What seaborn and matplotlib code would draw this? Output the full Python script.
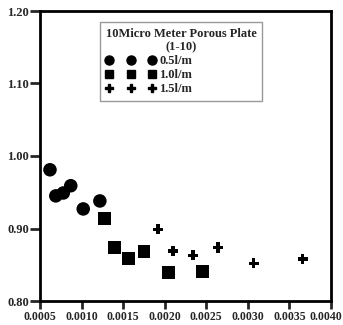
import pandas as pd
import matplotlib.pyplot as plt
import matplotlib.transforms as mtransforms
from matplotlib.lines import Line2D
import seaborn as sns

# flow rates and readings (x = superficial velocity, y = ratio)
x_05 = [0.00062, 0.00069, 0.00078, 0.00087, 0.00102, 0.00122]
y_05 = [0.981, 0.945, 0.949, 0.959, 0.927, 0.938]
x_10 = [0.00128, 0.00140, 0.00156, 0.00175, 0.00205, 0.00245]
y_10 = [0.914, 0.874, 0.859, 0.868, 0.839, 0.841]
x_15 = [0.00192, 0.00210, 0.00234, 0.00264, 0.00307, 0.00366]
y_15 = [0.899, 0.869, 0.863, 0.874, 0.852, 0.858]
labels = ['0.5l/m', '1.0l/m', '1.5l/m']

xticks = [0.0005, 0.0010, 0.0015, 0.0020, 0.0025, 0.0030, 0.0035, 0.0040]
yticks = [0.80, 0.90, 1.00, 1.10, 1.20]

data = pd.DataFrame({
    'x': x_05 + x_10 + x_15,
    'y': y_05 + y_10 + y_15,
    'flow': [labels[0]] * len(x_05) + [labels[1]] * len(x_10) + [labels[2]] * len(x_15),
})

sns.set_style("white")
plt.rcParams['font.family'] = ['Liberation Serif', 'DejaVu Serif']
plt.rcParams['font.weight'] = 'bold'

fig = plt.figure(figsize=(3.43, 3.25), dpi=100)
ax = fig.add_axes([40 / 343, 24 / 325, 291 / 343, 290 / 325])

markers = {labels[0]: 'o', labels[1]: 's', labels[2]: 'P'}
sizes = {labels[0]: 95, labels[1]: 85, labels[2]: 55}
sns.scatterplot(x='x', y='y', data=data, style='flow', markers=markers,
                hue='flow', palette=['black'] * 3, size='flow', sizes=sizes,
                linewidth=0, ax=ax, legend=False)

ax.set_xlim(0.0005, 0.0040)
ax.set_ylim(0.80, 1.20)
ax.set_xticks(xticks)
ax.set_xticklabels([f'{v:.4f}' for v in xticks])
ax.set_yticks(yticks)
ax.set_yticklabels([f'{v:.2f}' for v in yticks])
ax.set_xlabel('')
ax.set_ylabel('')
ax.tick_params(axis='both', direction='out', length=7, width=2, labelsize=9,
               bottom=True, left=True, top=False, right=False, pad=1)
ax.tick_params(axis='x', labelsize=8.5, length=6)
for sp in ax.spines.values():
    sp.set_linewidth(2)
    sp.set_color('black')

# keep the last x label inside the figure
last = ax.get_xticklabels()[-1]
last.set_ha('right')
last.set_transform(last.get_transform() +
                   mtransforms.ScaledTranslation(11 / 100, 0, fig.dpi_scale_trans))

handles = [Line2D([], [], marker=markers[lab], color='black', linestyle='none',
                  markersize=ms) for lab, ms in zip(labels, [6.5, 6, 6])]
leg = ax.legend(handles, labels, title='10Micro Meter Porous Plate\n(1-10)',
                numpoints=3, loc='upper left', alignment='left',
                bbox_to_anchor=(0.206, 0.962), fontsize=9, title_fontsize=9,
                frameon=True, fancybox=False, edgecolor='grey',
                handlelength=4.0, handletextpad=0.3, labelspacing=0.15,
                borderpad=0.45, borderaxespad=0)
leg.get_title().set_fontweight('bold')
leg.get_title().set_multialignment('center')
leg.get_frame().set_linewidth(1)

fig.savefig('out.png', dpi=100)
